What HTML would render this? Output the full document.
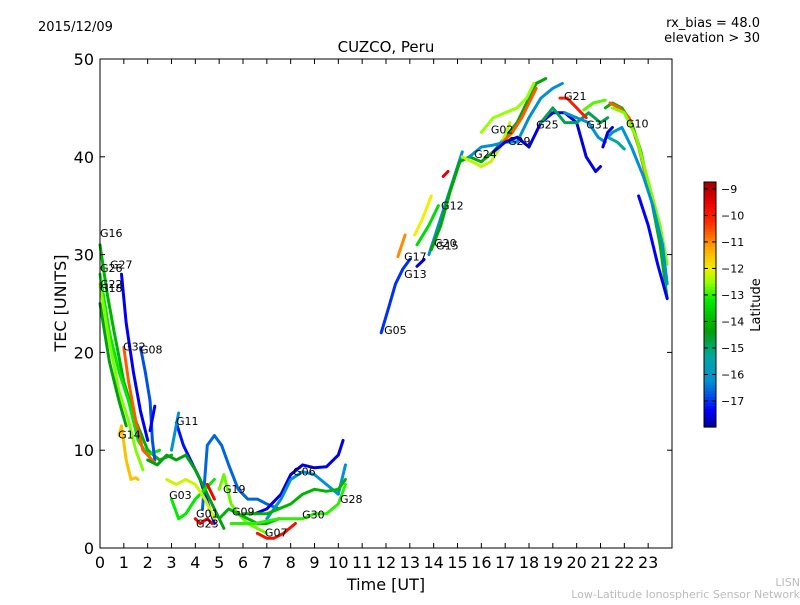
<!DOCTYPE html>
<html><head><meta charset="utf-8"><style>
body{margin:0;background:#fff;}
svg text{font-family:"DejaVu Sans","Liberation Sans",sans-serif;}
</style></head><body>
<svg id="chart" width="800" height="600" viewBox="0 0 800 600" xmlns="http://www.w3.org/2000/svg">
<rect x="100" y="59" width="572" height="489" fill="#fff"/>
<g id="marks"></g>
<g id="axes"></g>
<text x="38" y="31" font-size="13">2015/12/09</text>
<text x="760" y="27" font-size="13" text-anchor="end">rx_bias = 48.0</text>
<text x="760" y="42" font-size="13" text-anchor="end">elevation &gt; 30</text>
<text x="386" y="52" font-size="15" text-anchor="middle">CUZCO, Peru</text>
<text x="386" y="590" font-size="16" text-anchor="middle">Time [UT]</text>
<text x="66" y="303" font-size="16" text-anchor="middle" transform="rotate(-90 66 303)">TEC [UNITS]</text>
<text x="800" y="586" font-size="11" fill="#bbb" text-anchor="end">LISN</text>
<text x="800" y="598" font-size="11" fill="#bbb" text-anchor="end">Low-Latitude Ionospheric Sensor Network</text>
<g id="cbar"></g>
</svg>
<script>
const xTicks=[0,1,2,3,4,5,6,7,8,9,10,11,12,13,14,15,16,17,18,19,20,21,22,23];
const yTicks=[0,10,20,30,40,50];
const cbTicks=[-9,-10,-11,-12,-13,-14,-15,-16,-17];
const times=[
[0,0.3,0.6,1.0,1.5,2.0,2.5,3.0],[0,0.4,0.8,1.2,1.6,2.0,2.5],[0,0.4,0.8,1.2,1.5,1.8],[0,0.4,0.8,1.1],
[0.9,1.1,1.4,1.7,2.0],[1.7,1.9,2.1,2.2,2.3],[1.0,1.2,1.5,1.8,2.0,2.3],[0.8,0.9,1.1,1.3,1.5,1.6],
[2.1,2.3],[3.2,3.5,3.9,4.2,4.4,4.6,4.8],[3.0,3.3],[4.3,4.5,4.8,5.1,5.4,5.8,6.2,6.6,7.0,7.5],
[2.0,2.4,2.8,3.2,3.6,4.0,4.4,4.8,5.2],[3.0,3.3,3.6,4.0,4.4,4.8],[2.8,3.2,3.6,4.0,4.4,4.8],[4.0,4.2,4.5,4.7],
[4.5,4.8],[5.0,5.2,5.5,5.8,6.2,6.6,7.0],[5.0,5.4,5.8,6.2,6.6,7.0,7.5],[6.6,7.0,7.3,7.7,8.2],
[6.5,7.0,7.6,8.0,8.5,9.0,9.5,10.0,10.2],[7.0,7.6,8.0,8.5,9.0,9.5,10.0,10.3],[6,7,8,8.5,9,9.5,10,10.3],[5.5,6.5,7.5,8.5,9,9.5,10,10.3],
[11.8,12.1,12.4,12.7,13.0],[12.5,12.8],[13.3,13.6],[13.2,13.5,13.9],[13.3,13.8,14.2],[13.8,14.2,14.6,15.0,15.2],
[13.9,14.3,14.7,15.1,15.5,16.0,16.5,17.0,17.5,18.0,18.3,18.7],[15.2,15.6,16.0,16.4,16.8,17.2],[16.0,16.5,17.0,17.5,17.9,18.2],
[16.9,17.3,17.7,18.0,18.3],[15.5,16.0,16.5,17.0,17.5,18.0,18.5,19.0,19.4],[16.5,17.0,17.5,18.0,18.5,19.0,19.5,20.0,20.4,20.8,21.0],
[18.5,19.0,19.5,20.0,20.5,21.0,21.3],[19.3,19.6,20.0,20.4],[19.5,20.0,20.5,20.9,21.2],[20.3,20.7,21.2],
[21.2,21.5,21.9,22.3,22.7,23.1,23.5,23.8],[21.4,21.8,22.2,22.6,23.0,23.2],[21.5,22,22.5,23,23.5,23.8],
[21.3,21.5,21.9,22.3,22.8,23.2,23.6,23.8],[22.6,23.0,23.4,23.8],[21.3,21.7,22.0],[14.4,14.6],[21.1,21.3,21.5]];
const tecs=[
[31,26,22,17,13,10,9,9.5],[28,22,18,15,11,9.5,10],[27,21,16,13,10,8],[25,19,15,12.5],
[28,23,18,14,11],[20.5,18,15,11,9],[20.5,17,13,10,9.5,8.7],[11.5,12.5,9,7,7.2,7],
[12,14.5],[12.8,10.5,8.5,7,5.5,4,2.5],[10,13.8],[4,10.5,11.5,10.5,8.5,6,5,5,4.5,4],
[9,8.5,9.5,9,9.5,8,6,4,2],[5,3,3.5,5,6,7],[7,6.5,7,6.5,5,3],[3,2.5,3,2.5],
[6.5,5],[6,7.5,4.5,3.5,2.5,2,1.5],[3,4,3.5,3,2.5,2.5,3],[1.5,1,1,1.5,2.5],
[3.5,4,5.5,7.5,8.5,8.2,8.3,9.5,11],[3,5,7,7.8,7.5,6.5,5.5,8.5],[3.5,3.5,4.5,5.5,6,5.8,6,7],[2.5,2.5,3,3,3.5,3.5,4.5,6.5],
[22,24.5,27,28.5,29.5],[29.8,32],[28.8,29.5],[32,33.5,36],[31,33,35],[30,33,36,39,40.5],
[30.5,33,36.5,39.5,40,39.5,40.5,42,43.5,46,47.5,48],[40,39.5,39,39.5,41,43.5],[42.5,44,44.5,45,46,47.5],
[41.5,42.5,44,45.5,47],[40,41,41.2,41.5,41.5,44,46,47,47.5],[40.5,41.5,42,41,43.5,44.5,44.5,43.5,40,38.5,39],
[43.5,45,43.5,43.5,44.5,43.5,44],[46,46,45,44],[44.5,44,43.5,42,41.5],[44.8,45.5,45.8],
[45,45.5,45,43.5,40.5,36,31,25.5],[45.5,45,44,41,37,35],[45,44.5,42,37.5,33,29],
[42,42.5,43,41,38,35,31,27],[36,33,29,25.5],[42,41.5,40.8],[38,38.5],[41,42.5,43]];
const lats=[-14.0,-13.2,-12.6,-14.4,-17.4,-16.8,-10.6,-11.5,-17.3,-17.2,-16.2,-16.6,-14.4,-13.2,-12.2,-9.6,-9.6,-12.7,-14.0,-9.8,-17.5,-16.2,-14.0,-13.0,
-17.0,-11.0,-17.5,-12.0,-13.4,-16.2,-14.2,-12.3,-12.5,-10.6,-16.2,-17.5,-14.8,-10.0,-16.2,-12.8,-14.0,-10.6,-12.6,-16.2,-17.3,-15.3,-9.4,-17.5];
const labelNames=["G16","G26","G27","G22","G18","G32","G08","G14","G11","G03","G19","G01","G23","G09","G07","G06","G28","G30","G05","G13","G17","G12","G20","G15","G24","G02","G29","G25","G21","G31","G10"];
const labelTimes=[0,0,0.42,0,0,0.97,1.68,0.76,3.19,2.9,5.16,4.03,4.03,5.54,6.92,8.1,10.07,8.48,11.92,12.76,12.76,14.31,14.02,14.1,15.7,16.4,17.12,18.3,19.47,20.4,22.07];
const labelTecs=[31.8,28.2,28.6,26.6,26.2,20.2,19.9,11.2,12.6,5.0,5.6,3.1,2.1,3.3,1.2,7.4,4.6,3.0,21.9,27.6,29.4,34.6,30.8,30.5,39.9,42.4,41.2,42.9,45.8,42.9,43];
const latMin=-17.98, latMax=-8.74;
const X0=100,X1=672,Y0=548,Y1=59;
const xs=t=>X0+t*(X1-X0)/24, ys=v=>Y0-v*(Y0-Y1)/50;
const cmapStops=[[-17.98,[0,0,150]],[-17.3,[0,0,255]],[-16.8,[0,80,230]],[-16.2,[0,145,210]],[-15.3,[0,168,160]],[-14.3,[0,160,0]],[-13.2,[0,235,0]],[-12.5,[150,255,0]],[-12.0,[240,240,0]],[-11.2,[255,165,0]],[-10.2,[255,40,0]],[-9.5,[235,0,0]],[-8.74,[160,0,0]]];
function cmap(v){
 if(v<=cmapStops[0][0])return `rgb(${cmapStops[0][1]})`;
 for(let i=1;i<cmapStops.length;i++){if(v<=cmapStops[i][0]){
  const [a,ca]=cmapStops[i-1],[b,cb]=cmapStops[i];const f=(v-a)/(b-a);
  return `rgb(${ca.map((c,k)=>Math.round(c+(cb[k]-c)*f)).join(',')})`;}}
 return `rgb(${cmapStops[cmapStops.length-1][1]})`;}
const NS="http://www.w3.org/2000/svg";
function mk(tag,attrs,parent){const e=document.createElementNS(NS,tag);for(const k in attrs)e.setAttribute(k,attrs[k]);parent.appendChild(e);return e;}
const marks=document.getElementById('marks');
for(let i=0;i<times.length;i++){
 const pts=times[i].map((t,j)=>xs(t).toFixed(1)+","+ys(tecs[i][j]).toFixed(1)).join(" ");
 const pl=mk('polyline',{points:pts,fill:'none',stroke:cmap(lats[i]),'stroke-width':3,'stroke-linejoin':'round','stroke-linecap':'round'},marks);
 
 
}
for(let i=0;i<labelNames.length;i++){
 const t=mk('text',{x:xs(labelTimes[i]),y:ys(labelTecs[i]),'font-size':11},marks);
 t.textContent=labelNames[i];
 
 
}
const ax=document.getElementById('axes');
const fr=mk('rect',{x:X0,y:Y1,width:X1-X0,height:Y0-Y1,fill:'none',stroke:'#000','stroke-width':1},ax);


xTicks.forEach(v=>{const x=xs(v);
 mk('line',{x1:x,x2:x,y1:Y0,y2:Y0-5,stroke:'#000'},ax);mk('line',{x1:x,x2:x,y1:Y1,y2:Y1+5,stroke:'#000'},ax);
 const t=mk('text',{x:x,y:568,'font-size':16,'text-anchor':'middle'},ax);t.textContent=v;
 
 });
yTicks.forEach(v=>{const y=ys(v);
 mk('line',{x1:X0,x2:X0+5,y1:y,y2:y,stroke:'#000'},ax);mk('line',{x1:X1,x2:X1-5,y1:y,y2:y,stroke:'#000'},ax);
 const t=mk('text',{x:94,y:y+6,'font-size':16,'text-anchor':'end'},ax);t.textContent=v;
 
 });
const cb=document.getElementById('cbar');
const CB0=427,CB1=182;
for(let k=0;k<80;k++){const v0=latMin+(latMax-latMin)*(k+0.5)/80;
 const y=CB0-(CB0-CB1)*(k+1)/80;
 mk('rect',{x:704,y:y.toFixed(2),width:12,height:((CB0-CB1)/80+0.6).toFixed(2),fill:cmap(v0)},cb);}
const cbf=mk('rect',{x:704,y:CB1,width:12,height:CB0-CB1,fill:'none',stroke:'#000'},cb);


const cy=v=>CB0-(v-latMin)*(CB0-CB1)/(latMax-latMin);
cbTicks.forEach(v=>{const y=cy(v);
 mk('line',{x1:704,x2:708,y1:y,y2:y,stroke:'#000'},cb);mk('line',{x1:716,x2:712,y1:y,y2:y,stroke:'#000'},cb);
 const t=mk('text',{x:721,y:y+4,'font-size':11},cb);t.textContent='\u2212'+(-v);
 
 });
const ct=mk('text',{x:760,y:305,'font-size':13,'text-anchor':'middle',transform:'rotate(-90 760 305)'},cb);
ct.textContent='Latitude';


</script>
</body></html>
